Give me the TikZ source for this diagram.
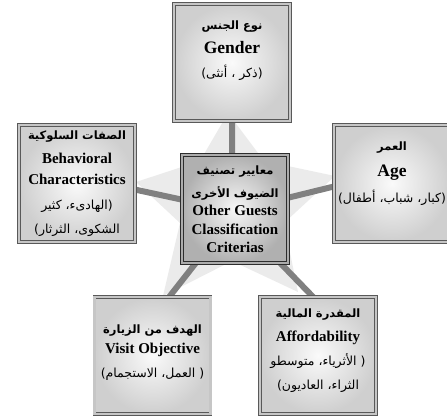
\documentclass[tikz,border=0pt]{standalone}
\usepackage{fontspec}
\setmainfont{Liberation Serif}
\newfontfamily\arabicfont[Script=Arabic]{DejaVu Sans}
\TeXXeTstate=1
\newcommand{\artxt}[1]{{\arabicfont\fontsize{12.5}{24}\selectfont\beginR #1\endR}}
\newcommand{\artitle}[1]{{\arabicfont\bfseries\fontsize{11.5}{24}\selectfont\beginR #1\endR}}
\usetikzlibrary{backgrounds}
\tikzset{ crit/.style = { rectangle % criterion box
        , draw = gray!70!black
        , line width = 0.6pt
        , double = gray!45
        , double distance = 2.2pt
        , inner color = gray!4
        , outer color = gray!38
        , minimum width = 116pt
        , minimum height = 117pt
        , align = center
        , font = \fontsize{15}{24}\selectfont
        }
        , hub/.style = { rectangle % centre box
        , draw = gray!35!black
        , line width = 1pt
        , double = gray!65
        , double distance = 1.2pt
        , inner color = gray!6
        , outer color = gray!62
        , minimum width = 106pt
        , minimum height = 108pt
        , align = center
        , font = \fontsize{15}{24}\selectfont
        }
        }

\begin{document}
\begin{tikzpicture}[x=1pt, y=-1pt,
        edge_style/.style={draw=gray, line width=6pt, shorten <=-4pt, shorten >=-4pt},
        star_style/.style={fill=gray!16, draw=none}]
        \useasboundingbox (0,0) rectangle (447,420);

        \node [hub](n_center) at (235,209) {\artitle{معايير تصنيف}\\[-1pt] \artitle{الضيوف الأخرى}\\[-5.5pt] \textbf{Other Guests}\\[-5.5pt] \textbf{Classification}\\[-5.5pt] \textbf{Criterias}};
        \node [crit, text depth=26pt](n_gender) at (232,62.5) {\artitle{نوع الجنس}\\ {\fontsize{17.5}{24}\selectfont\textbf{Gender}}\\ \artxt{(ذكر ، أنثى)}};
        \node [crit](n_behav) at (77,183.5) {\artitle{الصفات السلوكية}\\ \textbf{Behavioral}\\[-3pt] \textbf{Characteristics}\\[1pt] \artxt{(الهادىء، كثير}\\ \artxt{الشكوى، الثرثار)}};
        \node [crit, text depth=22pt](n_age) at (392,183.5) {\artitle{العمر}\\[2pt] {\fontsize{17.5}{24}\selectfont\textbf{Age}}\\[2pt] \artxt{(كبار، شباب، أطفال)}};
        \node [crit, text depth=8pt](n_visit) at (152.5,355.5) {\artitle{الهدف من الزيارة}\\[-4pt] \textbf{Visit Objective}\\ \artxt{( العمل، الاستجمام)}};
        \node [crit, text depth=12pt](n_afford) at (318,355.5) {\artitle{المقدرة المالية}\\ \textbf{Affordability}\\ \artxt{( الأثرياء، متوسطو}\\ \artxt{الثراء، العاديون)}};

        \begin{scope}[on background layer]
            \fill [star_style] (228,113) -- (264,161) -- (335,176) -- (284,223) -- (298,292) -- (232,261)
                -- (163,296) -- (180,223) -- (136,182) -- (200,161) -- cycle;
            \draw [edge_style] (n_center.93) -- (n_gender.270);
            \draw [edge_style] (n_center.170) -- (n_behav.354);
            \draw [edge_style] (n_center.12) -- (n_age.183);
            \draw [edge_style] (n_center.234) -- (n_visit.74);
            \draw [edge_style] (n_center.310) -- (n_afford.95);
        \end{scope}
\end{tikzpicture}
\end{document}
